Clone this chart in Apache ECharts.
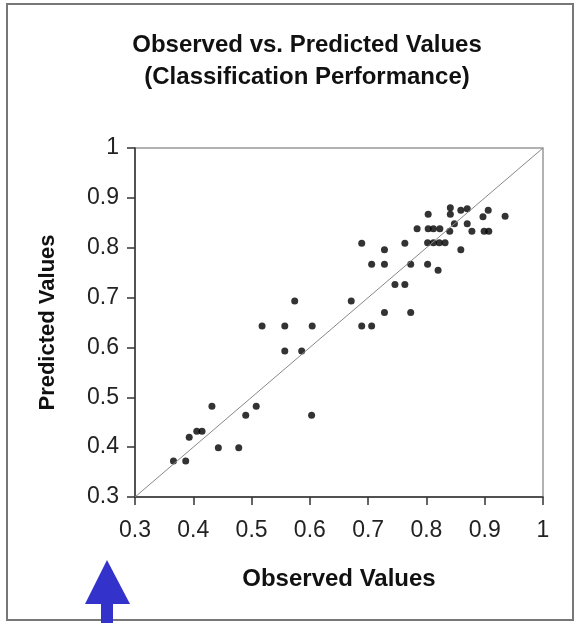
<!DOCTYPE html>
<html>
<head>
<meta charset="utf-8">
<title>Observed vs. Predicted Values</title>
<script src="https://cdn.jsdelivr.net/npm/echarts@6/dist/echarts.min.js"></script>
<style>
  html, body { margin: 0; padding: 0; background: #fff; }
  #chart { width: 576px; height: 623px; }
</style>
</head>
<body>
<div id="chart"></div>
<script>
// observed (x) values of each case
var observed = [
  0.366, 0.387, 0.393, 0.406, 0.415, 0.432, 0.443, 0.478, 0.490, 0.508,
  0.603, 0.518, 0.557, 0.604, 0.557, 0.586, 0.574, 0.671, 0.689, 0.706,
  0.689, 0.763, 0.728, 0.706, 0.728, 0.773, 0.802, 0.820, 0.746, 0.763,
  0.728, 0.773, 0.802, 0.812, 0.822, 0.832, 0.803, 0.841, 0.841, 0.859,
  0.870, 0.906, 0.897, 0.935, 0.848, 0.870, 0.784, 0.803, 0.812, 0.823,
  0.840, 0.878, 0.899, 0.907, 0.859
];
// predicted (y) values, same order
var predicted = [
  0.372, 0.372, 0.420, 0.432, 0.432, 0.482, 0.399, 0.399, 0.464, 0.482,
  0.464, 0.643, 0.643, 0.643, 0.593, 0.593, 0.693, 0.693, 0.643, 0.643,
  0.809, 0.809, 0.796, 0.767, 0.767, 0.767, 0.767, 0.755, 0.726, 0.726,
  0.670, 0.670, 0.810, 0.810, 0.810, 0.810, 0.867, 0.880, 0.867, 0.875,
  0.878, 0.875, 0.862, 0.863, 0.848, 0.848, 0.838, 0.838, 0.838, 0.838,
  0.833, 0.833, 0.833, 0.833, 0.796
];
// 1:1 reference line
var diagonal = [[0.3, 0.3], [1, 1]];
var tickLabels = ['0.3', '0.4', '0.5', '0.6', '0.7', '0.8', '0.9', '1'];

var chart = echarts.init(document.getElementById('chart'));
var font = '"Liberation Sans", Arial, sans-serif';

var axisCommon = {
  type: 'value',
  min: 0.3,
  max: 1,
  interval: 0.1,
  nameLocation: 'middle',
  nameTextStyle: { fontFamily: font, fontWeight: 'bold', color: '#111' },
  axisLine: { show: true, lineStyle: { color: '#333', width: 1.5 } },
  axisTick: { show: true, inside: false, length: 8, lineStyle: { color: '#333', width: 1.5 } },
  splitLine: { show: false },
  axisLabel: {
    fontFamily: font,
    fontSize: 23,
    color: '#222',
    formatter: function (v) {
      return tickLabels[Math.round((v - 0.3) * 10)];
    }
  }
};

chart.setOption({
  animation: false,
  title: {
    text: 'Observed vs. Predicted Values\n(Classification Performance)',
    left: 302,
    top: 24,
    textAlign: 'center',
    textStyle: { fontFamily: font, fontSize: 24, fontWeight: 'bold', color: '#111', lineHeight: 32 }
  },
  grid: {
    left: 135,
    right: 33,
    top: 148,
    bottom: 126,
    show: true,
    borderColor: '#999',
    borderWidth: 1.5
  },
  xAxis: Object.assign({}, axisCommon, {
    name: 'Observed Values',
    nameGap: 70,
    nameTextStyle: Object.assign({}, axisCommon.nameTextStyle, { fontSize: 24 }),
    axisLabel: Object.assign({}, axisCommon.axisLabel, { margin: 22 })
  }),
  yAxis: Object.assign({}, axisCommon, {
    name: 'Predicted Values',
    nameGap: 76,
    nameTextStyle: Object.assign({}, axisCommon.nameTextStyle, { fontSize: 22 }),
    axisLabel: Object.assign({}, axisCommon.axisLabel, { margin: 16 })
  }),
  series: [
    {
      type: 'line',
      data: diagonal,
      symbol: 'none',
      silent: true,
      lineStyle: { color: '#888', width: 1 }
    },
    {
      type: 'scatter',
      data: observed.map(function (x, i) { return [x, predicted[i]]; }),
      symbol: 'circle',
      symbolSize: 7,
      itemStyle: { color: '#000' }
    }
  ],
  graphic: [
    // outer frame of the figure
    {
      type: 'rect',
      shape: { x: 7, y: 4, width: 566, height: 616 },
      style: { fill: null, stroke: '#777', lineWidth: 2 },
      z: -1
    },
    // blue pointer arrow
    {
      type: 'polygon',
      shape: { points: [[107, 560], [85, 604], [130, 604]] },
      style: { fill: '#3333cc' }
    },
    {
      type: 'rect',
      shape: { x: 101, y: 603, width: 12, height: 20 },
      style: { fill: '#3333cc' }
    }
  ]
});
</script>
</body>
</html>
